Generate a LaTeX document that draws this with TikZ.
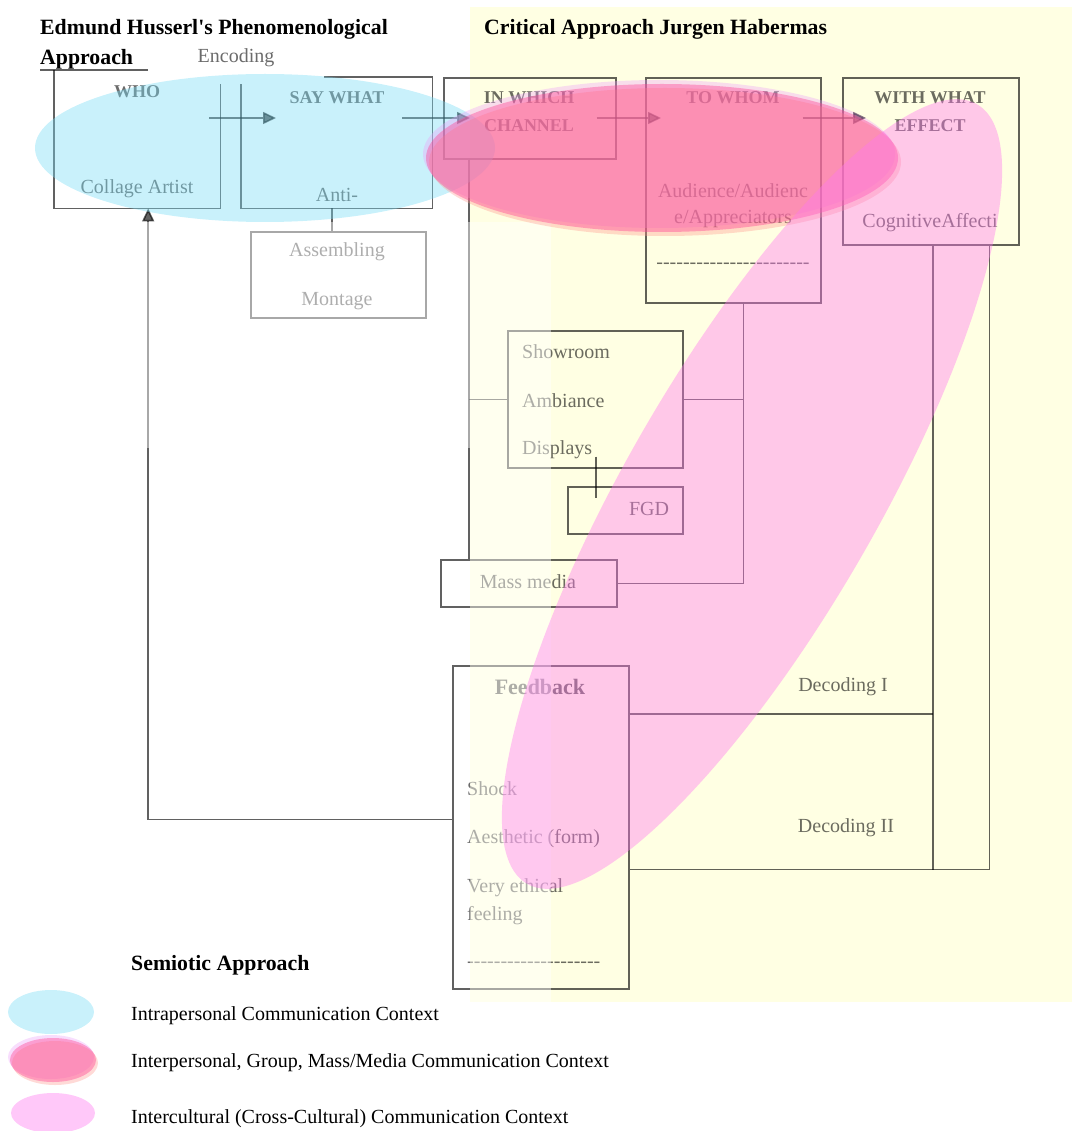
\documentclass[tikz,border=0pt]{standalone}
\usepackage{fontspec}
\setmainfont{Liberation Serif}[Ligatures=TeXOff]
\usetikzlibrary{positioning,arrows.meta}

\definecolor{bgyellow}{RGB}{255,255,227}
\definecolor{intracyan}{RGB}{120,220,245}
\definecolor{interred}{RGB}{255,70,150}
\definecolor{interlilac}{RGB}{235,160,250}
\definecolor{intersalmon}{RGB}{255,150,140}
\definecolor{crosspink}{RGB}{255,118,240}

\newcommand{\dashrow}[1]{\foreach \k in {1,...,#1}{-{}}}

\begin{document}
\begin{tikzpicture}[x=1pt, y=-1pt,
  ink/.style={text=black, text opacity=0.58},
  item/.style={ink, font=\fontsize{20}{24}\selectfont, inner sep=0pt},
  head/.style={ink, font=\fontsize{18}{28}\selectfont\bfseries, align=center, inner sep=0pt},
  title/.style={font=\fontsize{21.8}{26}\selectfont\bfseries, anchor=base west, inner sep=0pt},
  keytext/.style={font=\fontsize{20}{24}\selectfont, anchor=base west, inner sep=0pt},
  area/.style={inner sep=0pt, anchor=north west},
  frame/.style={area, draw=black, draw opacity=0.62, line width=1.6pt},
  link/.style={draw=black, opacity=0.62, line width=1.6pt},
  flow/.style={link, -{Triangle[length=13pt, width=12pt]}},
  intra/.style={fill=intracyan, fill opacity=0.4},
  inter/.style={fill=interred, fill opacity=0.42},
  interrim/.style={fill=#1, fill opacity=0.35},
  cross/.style={fill=crosspink, fill opacity=0.4}]
\useasboundingbox (0,0) rectangle (1072,1131);
\fill[bgyellow] (470,7) rectangle (1072,1002);

\node[area, minimum width=166pt, minimum height=138pt] (who) at (54,70) {};
\node[area, minimum width=191pt, minimum height=131pt] (saywhat) at (241,77) {};
\node[frame, minimum width=175pt, minimum height=86pt] (montage) at (250,231) {};
\node[frame, minimum width=172pt, minimum height=81pt] (channel) at (443,77) {};
\node[frame, minimum width=175pt, minimum height=225pt] (towhom) at (645,77) {};
\node[frame, minimum width=176pt, minimum height=167pt] (effect) at (842,77) {};
\node[frame, minimum width=175pt, minimum height=137pt] (showroom) at (507,330) {};
\node[frame, minimum width=115pt, minimum height=47pt] (fgd) at (567,486) {};
\node[frame, minimum width=176pt, minimum height=47pt] (massmedia) at (440,559) {};
\node[frame, minimum width=176pt, minimum height=323pt] (feedback) at (452,665) {};

\draw[link] ([xshift=94pt]who.north west) -- ([xshift=-14pt]who.north west);
\draw[link] (who.north west) -- (who.south west) -- (who.south east) -- ([yshift=-14pt]who.north east);
\draw[link] ([xshift=-108pt]saywhat.north east) -- (saywhat.north east) -- (saywhat.south east)
  -- (saywhat.south west) -- ([yshift=-7pt]saywhat.north west);

\coordinate (flowline) at (0,118);
\draw[flow] ([xshift=-11pt]who.east |- flowline) -- ([xshift=35pt]saywhat.west |- flowline);
\draw[flow] ([xshift=-30pt]saywhat.east |- flowline) -- ([xshift=27pt]channel.west |- flowline);
\draw[flow] ([xshift=-20pt]channel.east |- flowline) -- ([xshift=16pt]towhom.west |- flowline);
\draw[flow] ([xshift=-19pt]towhom.east |- flowline) -- ([xshift=24pt]effect.west |- flowline);

\draw[link] ([xshift=-5pt]saywhat.south) -- ([xshift=-5pt]saywhat.south |- montage.north);
\coordinate (chanfoot) at ([xshift=26pt]channel.south west);
\draw[link] (chanfoot) -- (chanfoot |- massmedia.north);
\draw[link] (showroom.west) -- (showroom.west -| chanfoot);
\coordinate (whomfoot) at ([xshift=10pt]towhom.south);
\draw[link] (whomfoot) |- (massmedia.east);
\draw[link] (showroom.east) -- (showroom.east -| whomfoot);
\draw[link] ([xshift=29pt,yshift=12pt]fgd.north west |- showroom.south) -- ([xshift=29pt,yshift=-12pt]fgd.north west);
\coordinate (decodeI) at ([xshift=2pt]effect.south);
\coordinate (decodeII) at ([xshift=-30pt]effect.south east);
\coordinate (fbtop) at ([yshift=-49pt]feedback.north east);
\coordinate (fbbottom) at ([yshift=120pt]feedback.south east);
\draw[link] (decodeI) -- (decodeI |- fbbottom);
\draw[link] (fbtop) -- (fbtop -| decodeI);
\draw[link] (decodeII) |- (fbbottom);
\draw[link, -{Triangle[length=13pt, width=12pt]}] ([yshift=8pt]feedback.west) -| ([xshift=11pt]who.south);

\node[item] (encoding) at (236,58) {Encoding};
\node[head] (whohead) at (137,92) {WHO};
\node[item] (artist) at (137,189) {Collage Artist};
\node[head] (saywhathead) at (337,98) {SAY WHAT};
\node[item] (anti) at (337,195) {Anti-};
\node[item] (assembling) at (337,252) {Assembling};
\node[item] (montagetext) at (337,301) {Montage};
\node[head] (channelhead) at (529,112) {IN WHICH\\CHANNEL};
\node[head] (towhomhead) at (733,98) {TO WHOM};
\node[item, align=center, font=\fontsize{20}{26}\selectfont] (audience) at (733,206) {Audience/Audienc\\e/Appreciators};
\node[item] (whomdash) at (733,266) {\dashrow{23}};
\node[head] (effecthead) at (930,112) {WITH WHAT\\EFFECT};
\node[item] (cognitive) at (930,223) {CognitiveAffecti};
\node[item, anchor=west] (showroomtext) at (522,352) {Showroom};
\node[item, anchor=west] (ambiance) at (522,401) {Ambiance};
\node[item, anchor=west] (displays) at (522,450) {Displays};
\node[item] (fgdtext) at (649,509) {FGD};
\node[item] (massmediatext) at (528,582) {Mass media};
\node[head, font=\fontsize{22}{26}\selectfont\bfseries] (feedbackhead) at (540,687) {Feedback};
\node[item, anchor=west] (shock) at (467,789) {Shock};
\node[item, anchor=west] (aesthetic) at (467,839) {Aesthetic (form)};
\node[item, anchor=west, align=left, font=\fontsize{20}{28}\selectfont] (ethical) at (467,902) {Very ethical\\feeling};
\node[item, anchor=west] (feedbackdash) at (467,965) {\dashrow{20}};
\node[item] (decodingI) at (843,687) {Decoding I};
\node[item] (decodingII) at (846,828) {Decoding II};

\fill[white, fill opacity=0.45] (0,222) rectangle (551,448);
\fill[white, fill opacity=0.45] (470,448) rectangle (551,1002);

\fill[intra] (265,148) ellipse [x radius=230pt, y radius=74pt];
\fill[interrim=interlilac] (659,154) ellipse [x radius=236pt, y radius=74pt];
\fill[interrim=intersalmon] (665,162) ellipse [x radius=236pt, y radius=74pt];
\fill[inter] (662,158) ellipse [x radius=236pt, y radius=74pt];
\fill[cross, rotate around={60:(752,494)}] (752,494) ellipse [x radius=450pt, y radius=126pt];

\node[title] (husserl) at (40,35) {Edmund Husserl's Phenomenological};
\node[title] (approach) at (40,65) {Approach};
\node[title] (habermas) at (484,35) {Critical Approach Jurgen Habermas};

\node[title] (semiotic) at (131,970) {Semiotic Approach};
\fill[intra] (51,1012) ellipse [x radius=43pt, y radius=22pt];
\fill[interrim=interlilac] (51,1057) ellipse [x radius=43pt, y radius=22pt];
\fill[interrim=intersalmon] (55,1063) ellipse [x radius=43pt, y radius=22pt];
\fill[inter] (53,1060) ellipse [x radius=43pt, y radius=22pt];
\fill[cross] (53,1113) ellipse [x radius=42pt, y radius=20pt];
\node[keytext] (intrakey) at (131,1020) {Intrapersonal Communication Context};
\node[keytext] (interkey) at (131,1067) {Interpersonal, Group, Mass/Media Communication Context};
\node[keytext] (crosskey) at (131,1123) {Intercultural (Cross-Cultural) Communication Context};
\end{tikzpicture}
\end{document}
